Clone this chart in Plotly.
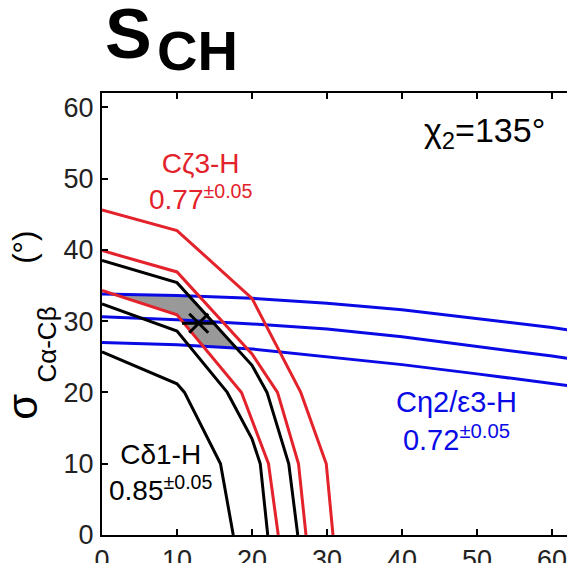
import plotly.graph_objects as go

# ---- data ----
# C-delta1-H contours (black)
cd1_inner_x = [0, 10, 11, 15.8, 17.5]
cd1_inner_y = [25.7, 21.2, 20, 10, 0]
cd1_mid_x = [0, 10, 16.7, 20, 21.1, 22.1]
cd1_mid_y = [32.4, 28.6, 20, 13.5, 10, 0]
cd1_outer_x = [0, 10, 20, 22, 24.9, 26.1]
cd1_outer_y = [38.5, 35.4, 23.8, 20, 10, 0]

# C-zeta3-H contours (red)
cz3_inner_x = [0, 10, 18.6, 22.2, 23.5]
cz3_inner_y = [34.3, 30.9, 20, 10, 0]
cz3_mid_x = [0, 10, 20, 23.4, 26.2, 27.2]
cz3_mid_y = [39.9, 36.9, 25.4, 20, 10, 0]
cz3_outer_x = [0, 10, 20, 26.5, 29.9, 30.8]
cz3_outer_y = [45.6, 42.7, 33.2, 20, 10, 0]

# C-eta2/epsilon3-H contours (blue)
ce_x = [0, 10, 20, 30, 40, 50, 60, 70]
ce_top_y = [33.8, 33.6, 33.2, 32.5, 31.6, 30.4, 29.1, 27.6]
ce_mid_y = [30.6, 30.2, 29.6, 28.9, 27.8, 26.5, 25.1, 23.6]
ce_bot_y = [27.0, 26.7, 26.1, 25.0, 23.9, 22.6, 21.3, 19.9]

# overlap region (grey)
overlap_x = [1.5, 11.6, 17.9, 13.5, 10, 1.5]
overlap_y = [33.7, 33.5, 26.1, 26.5, 30.9, 33.7]

# best-fit point
best_x = [12.9]
best_y = [29.7]

tick_vals = [0, 10, 20, 30, 40, 50, 60]

RED = "#E3222B"
BLUE = "#0A0AE6"
BLACK = "#000000"
FONT = "Liberation Sans, Arial, Helvetica, sans-serif"

fig = go.Figure()

fig.add_trace(go.Scatter(x=overlap_x, y=overlap_y, mode="lines", fill="toself",
                         fillcolor="#999999", line=dict(width=0), hoverinfo="skip"))

for xs, ys in [(ce_x, ce_top_y), (ce_x, ce_mid_y), (ce_x, ce_bot_y)]:
    fig.add_trace(go.Scatter(x=xs, y=ys, mode="lines", line=dict(color=BLUE, width=3)))
for xs, ys in [(cd1_inner_x, cd1_inner_y), (cd1_mid_x, cd1_mid_y), (cd1_outer_x, cd1_outer_y)]:
    fig.add_trace(go.Scatter(x=xs, y=ys, mode="lines", line=dict(color=BLACK, width=3)))
for xs, ys in [(cz3_inner_x, cz3_inner_y), (cz3_mid_x, cz3_mid_y), (cz3_outer_x, cz3_outer_y)]:
    fig.add_trace(go.Scatter(x=xs, y=ys, mode="lines", line=dict(color=RED, width=3)))

fig.add_trace(go.Scatter(x=best_x, y=best_y, mode="markers",
                         marker=dict(symbol="x-thin-open", size=19, color=BLACK,
                                     line=dict(color=BLACK, width=3))))
fig.add_trace(go.Scatter(x=best_x, y=best_y, mode="markers",
                         marker=dict(symbol="line-ew-open", size=24, color=BLACK,
                                     line=dict(color=BLACK, width=3))))

axis_common = dict(
    showgrid=False, zeroline=False, showline=True, linecolor="black", linewidth=2,
    ticks="inside", ticklen=6, tickwidth=1.5, tickcolor="black", automargin=False,
    ticklabeloverflow="allow",
    tickvals=tick_vals, tickfont=dict(family=FONT, size=27, color="#222222"),
)
fig.update_xaxes(range=[0, 62], mirror="ticks", **axis_common)
fig.update_yaxes(range=[0, 62], ticklabelstandoff=1, **axis_common)

ann = []
# title
ann.append(dict(text="<b>S</b>", xref="paper", yref="paper", x=0.003, y=1.133,
                xanchor="left", yanchor="middle", showarrow=False,
                font=dict(family=FONT, size=70, color="black")))
ann.append(dict(text="<b>CH</b>", xref="paper", yref="paper", x=0.113, y=1.096,
                xanchor="left", yanchor="middle", showarrow=False,
                font=dict(family=FONT, size=56, color="black")))
# chi2
ann.append(dict(text="χ<sub>2</sub>=135°", xref="x", yref="y", x=59.3, y=56.5,
                xanchor="right", yanchor="middle", showarrow=False,
                font=dict(family=FONT, size=34, color="black")))
# labels
ann.append(dict(text="Cζ3-H<br>0.77<sup>±0.05</sup>", xref="x", yref="y", x=13.1, y=49.6,
                xanchor="center", yanchor="middle", showarrow=False, align="center",
                font=dict(family=FONT, size=28, color=RED)))
ann.append(dict(text="Cη2/ε3-H<br>0.72<sup>±0.05</sup>", xref="x", yref="y", x=47.2, y=16.0,
                xanchor="center", yanchor="middle", showarrow=False, align="center",
                font=dict(family=FONT, size=29, color=BLUE)))
ann.append(dict(text="Cδ1-H<br>0.85<sup>±0.05</sup>", xref="x", yref="y", x=7.8, y=8.8,
                xanchor="center", yanchor="middle", showarrow=False, align="center",
                font=dict(family=FONT, size=28, color=BLACK)))
# y-axis title, built from three rotated pieces: σ, subscript, (°)
ann.append(dict(text="σ", xref="paper", yref="paper", x=-0.17, y=0.29, textangle=-90,
                xanchor="center", yanchor="middle", showarrow=False,
                font=dict(family=FONT, size=42, color="black")))
ann.append(dict(text="Cα-Cβ", xref="paper", yref="paper", x=-0.119, y=0.43, textangle=-90,
                xanchor="center", yanchor="middle", showarrow=False,
                font=dict(family=FONT, size=26, color="black")))
ann.append(dict(text="(°)", xref="paper", yref="paper", x=-0.1656, y=0.652, textangle=-90,
                xanchor="center", yanchor="middle", showarrow=False,
                font=dict(family=FONT, size=31, color="black")))

fig.update_layout(
    width=567, height=563,
    margin=dict(l=102, r=0, t=93, b=28),
    paper_bgcolor="white", plot_bgcolor="white",
    showlegend=False, annotations=ann,
)

# remove the default page margin so the figure fills the window exactly,
# and hide the plotly toolbar
fig.write_html("out.html",
               config={"displayModeBar": False},
               post_script="document.body.style.margin='0px';"
                           "document.body.style.overflow='hidden';")
